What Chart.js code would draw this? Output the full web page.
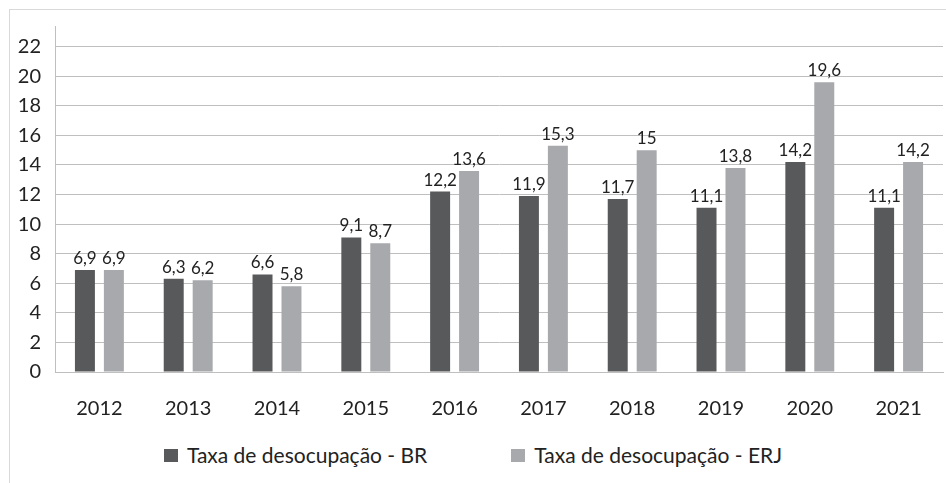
<!DOCTYPE html>
<html>
<head>
<meta charset="utf-8">
<script src="https://cdn.jsdelivr.net/npm/chart.js@4"></script>
<style>
  html, body { margin: 0; padding: 0; width: 946px; height: 483px; overflow: hidden; background: #fff; }
  #frame { position: absolute; left: 9px; top: 9px; width: 960px; height: 500px; border: 1px solid #d9d9d9; }
  #wrap { position: absolute; left: 0; top: 0; width: 946px; height: 430px; }
  #legend { position: absolute; left: 0; top: 443px; width: 946px; height: 24px; display: flex; justify-content: center;
            font-family: Lato, sans-serif; font-size: 21px; line-height: 24px; color: #222; }
  .item { display: flex; align-items: center; margin: 0 42px; }
  .box { display: inline-block; width: 14px; height: 13px; margin-right: 9px; }
</style>
</head>
<body>
<div id="frame"></div>
<div id="wrap"><canvas id="chart"></canvas></div>
<div id="legend"></div>
<script>
const years = ['2012', '2013', '2014', '2015', '2016', '2017', '2018', '2019', '2020', '2021'];
const taxaBR = [6.9, 6.3, 6.6, 9.1, 12.2, 11.9, 11.7, 11.1, 14.2, 11.1];
const taxaERJ = [6.9, 6.2, 5.8, 8.7, 13.6, 15.3, 15, 13.8, 19.6, 14.2];
const seriesNames = ['Taxa de desocupação - BR', 'Taxa de desocupação - ERJ'];

const barLabels = {
    id: 'barLabels',
    afterDatasetsDraw(chart) {
        const ctx = chart.ctx;
        ctx.save();
        ctx.font = '17px Lato';
        ctx.fillStyle = '#222';
        ctx.textAlign = 'center';
        ctx.textBaseline = 'bottom';
        chart.data.datasets.forEach((ds, i) => {
            chart.getDatasetMeta(i).data.forEach((bar, j) => {
                ctx.fillText(String(ds.data[j]).replace('.', ','), bar.x, bar.y - 3);
            });
        });
        ctx.restore();
    }
};

const ctx = document.getElementById('chart').getContext('2d');
const chart = new Chart(ctx, {
    type: 'bar',
    data: {
        labels: years,
        datasets: [{
            label: seriesNames[0],
            data: taxaBR,
            backgroundColor: '#58595b'
        }, {
            label: seriesNames[1],
            data: taxaERJ,
            backgroundColor: '#a7a9ac'
        }]
    },
    options: {
        responsive: true,
        maintainAspectRatio: false,
        animation: false,
        categoryPercentage: 0.652,
        barPercentage: 0.69,
        layout: { padding: { top: 22, right: 3, left: 0, bottom: 0 } },
        scales: {
            x: {
                grid: { display: false },
                border: { color: '#bfbfbf' },
                ticks: { color: '#222', font: { family: 'Lato', size: 20 }, padding: 17 },
                afterFit: (scale) => { scale.height = 58; }
            },
            y: {
                min: 0,
                max: 23.4,
                border: { color: '#bfbfbf' },
                grid: { color: '#bfbfbf', drawTicks: false },
                ticks: { stepSize: 2, includeBounds: false, color: '#222', font: { family: 'Lato', size: 20 }, padding: 14 },
                afterFit: (scale) => { scale.width = 55; }
            }
        },
        plugins: {
            legend: { display: false },
            tooltip: { enabled: false }
        }
    },
    plugins: [barLabels]
});

const legendEl = document.getElementById('legend');
chart.data.datasets.forEach((ds) => {
    const item = document.createElement('span');
    item.className = 'item';
    item.innerHTML = `<span class="box" style="background:${ds.backgroundColor}"></span>${ds.label}`;
    legendEl.appendChild(item);
});
</script>
</body>
</html>
